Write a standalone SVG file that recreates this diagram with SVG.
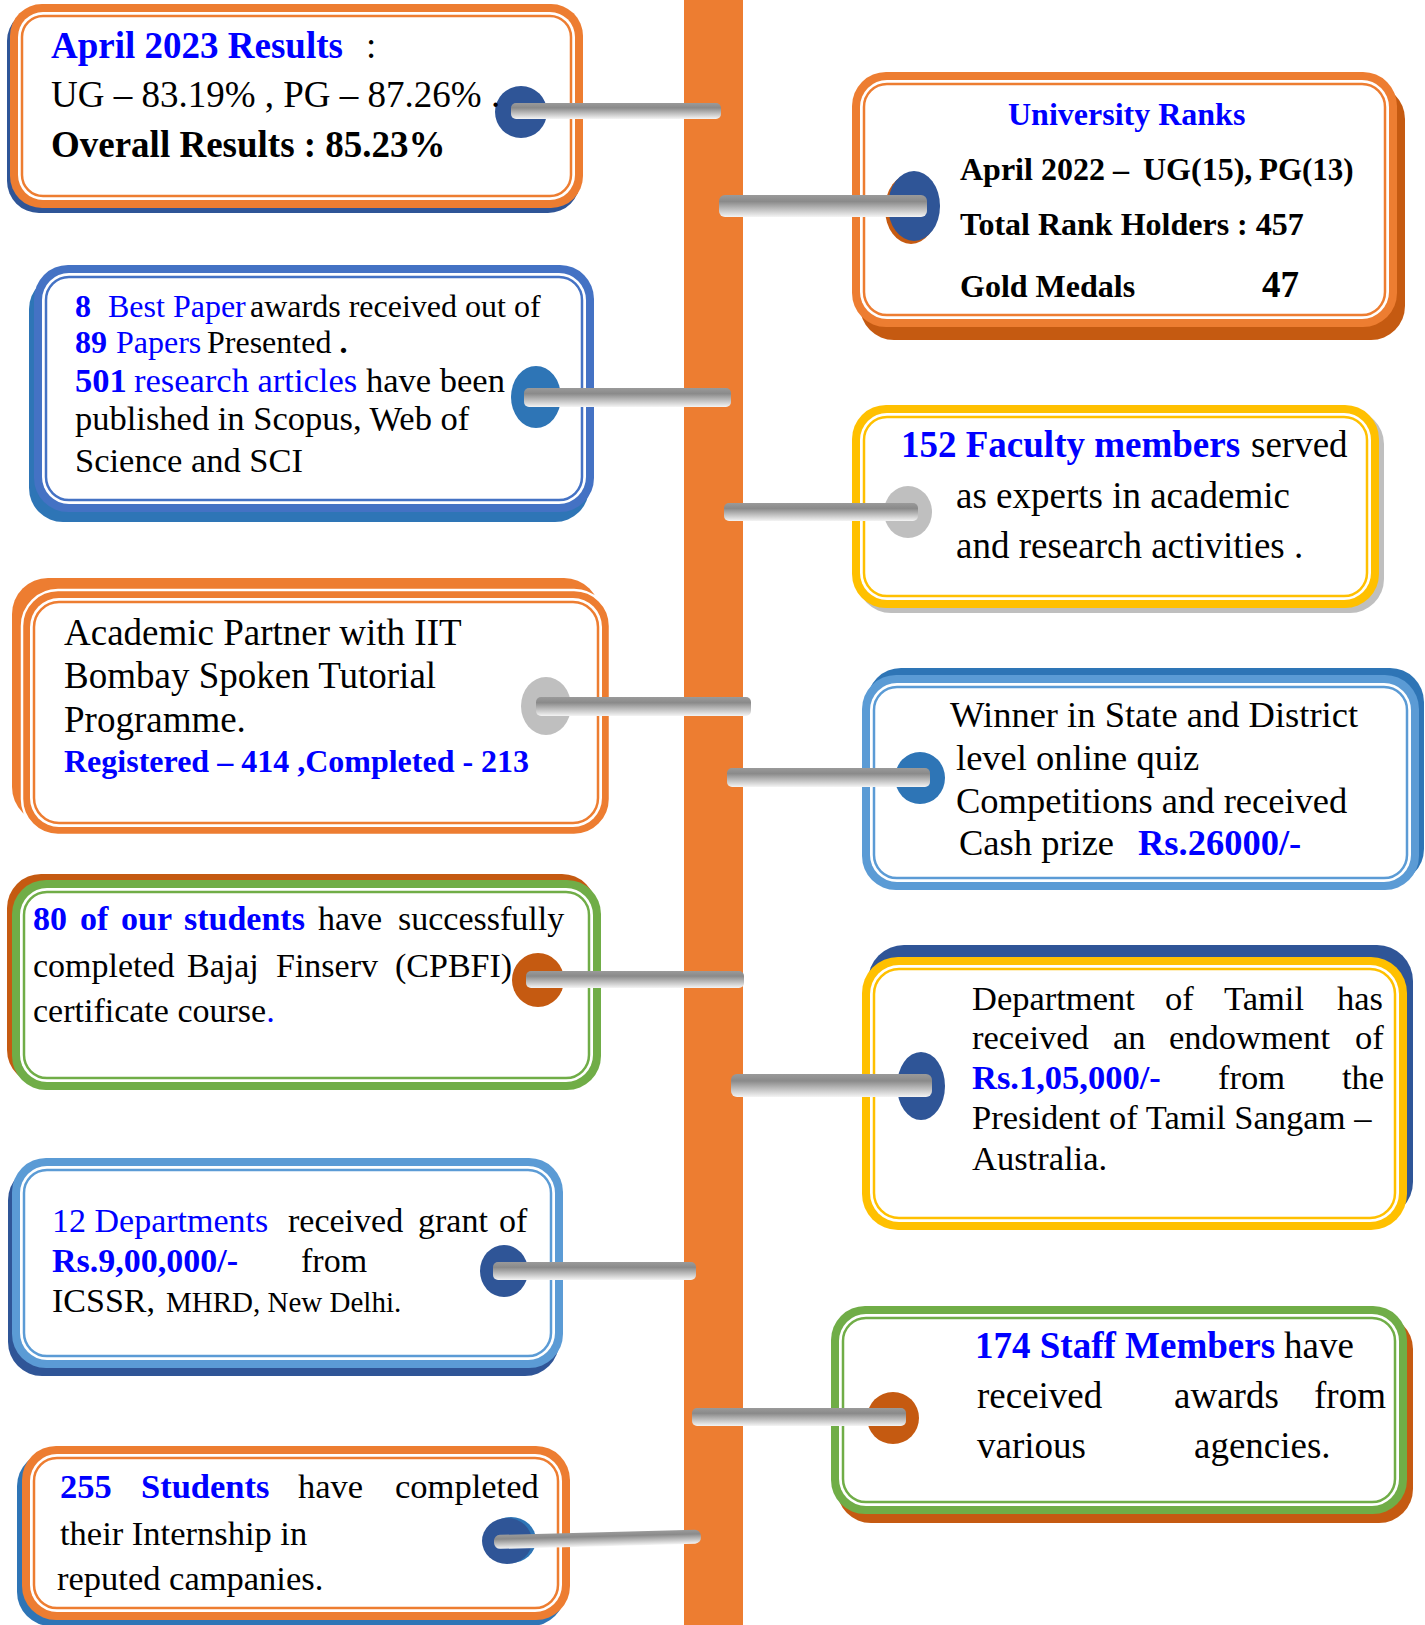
<svg xmlns="http://www.w3.org/2000/svg" width="1425" height="1625" viewBox="0 0 1425 1625">
<defs>
<linearGradient id="gc" x1="0" y1="0" x2="0" y2="1">
<stop offset="0" stop-color="#9a9a9a"/>
<stop offset="0.3" stop-color="#8a8a8a"/>
<stop offset="1" stop-color="#f4f4f4"/>
</linearGradient>
</defs>
<style>
text{font-family:"Liberation Serif","Times New Roman",serif;fill:#000}
.b{font-weight:bold}
.bl{fill:#0000FF}
.wt{fill:#fff}
.con{fill:url(#gc)}
</style>
<rect id="spine" x="684" y="0" width="59" height="1625" fill="#ED7D31"/>

<g id="n1">
<rect x="7" y="9" width="573" height="204" rx="32" fill="#2F5597"/>
<rect x="10" y="4" width="573" height="204" rx="32" fill="#ED7D31"/>
<rect x="18" y="12" width="557" height="188" rx="25" class="wt"/>
<rect x="22" y="16" width="549" height="180" rx="21" fill="none" stroke="#ED7D31" stroke-width="2.5"/>
<ellipse cx="521" cy="112" rx="26" ry="26" fill="#2F5597"/>
<g font-size="37">
<text x="51" y="58" class="b bl">April 2023 Results</text>
<text x="366" y="58">:</text>
<text x="51" y="107">UG – 83.19% , PG – 87.26%</text>
<text x="491" y="107">.</text>
<text x="51" y="157" class="b">Overall Results : 85.23%</text>
</g>
</g>

<g id="n2">
<rect x="860" y="85" width="545" height="255" rx="34" fill="#C55A11"/>
<rect x="852" y="72" width="545" height="255" rx="34" fill="#ED7D31"/>
<rect x="860" y="80" width="529" height="239" rx="27" class="wt"/>
<rect x="864" y="84" width="521" height="231" rx="23" fill="none" stroke="#ED7D31" stroke-width="2.5"/>
<ellipse cx="911" cy="209" rx="26" ry="35" fill="#C55A11"/>
<ellipse cx="914" cy="206" rx="26" ry="35" fill="#2F5597"/>
<g font-size="32" class="b">
<text x="1008" y="125" class="b bl">University Ranks</text>
<text x="960" y="180" class="b">April 2022 –</text>
<text x="1143" y="180" class="b">UG(15),</text>
<text x="1259" y="180" class="b" font-size="31">PG(13)</text>
<text x="960" y="235" class="b">Total Rank Holders : 457</text>
<text x="960" y="297" class="b">Gold Medals</text>
<text x="1262" y="297" class="b" font-size="37">47</text>
</g>
</g>

<g id="n3">
<rect x="29" y="275" width="560" height="247" rx="34" fill="#2E75B6"/>
<rect x="34" y="265" width="560" height="247" rx="34" fill="#4472C4"/>
<rect x="42" y="273" width="544" height="231" rx="27" class="wt"/>
<rect x="46" y="277" width="536" height="223" rx="23" fill="none" stroke="#4472C4" stroke-width="2.5"/>
<ellipse cx="536" cy="397" rx="25" ry="31" fill="#2E75B6"/>
<g font-size="32">
<text x="75" y="317" class="b bl">8</text>
<text x="108" y="317" class="bl">Best Paper</text>
<text x="250" y="317">awards received out of</text>
<text x="75" y="353" class="b bl">89</text>
<text x="116" y="353" class="bl">Papers</text>
<text x="207" y="353">Presented <tspan class="b">.</tspan></text>
</g>
<g font-size="34.5">
<text x="75" y="392" class="b bl">501</text>
<text x="134" y="392" class="bl">research articles</text>
<text x="366" y="392">have been</text>
<text x="75" y="430">published in Scopus, Web of</text>
<text x="75" y="472">Science and SCI</text>
</g>
</g>

<g id="n4">
<rect x="857" y="410" width="527" height="203" rx="34" fill="#BFBFBF"/>
<rect x="852" y="405" width="527" height="203" rx="34" fill="#FFC000"/>
<rect x="860" y="413" width="511" height="187" rx="27" class="wt"/>
<rect x="864" y="417" width="503" height="179" rx="23" fill="none" stroke="#FFC000" stroke-width="2.5"/>
<ellipse cx="908" cy="512" rx="24" ry="26" fill="#BFBFBF"/>
<g font-size="37">
<text x="901" y="457" class="b bl">152 Faculty members</text>
<text x="1251" y="457">served</text>
<text x="956" y="508">as experts in academic</text>
<text x="956" y="558">and research activities .</text>
</g>
</g>

<g id="n5">
<rect x="12" y="578" width="588" height="245" rx="36" fill="#ED7D31"/>
<rect x="22" y="590" width="588" height="245" rx="36" fill="#ED7D31" stroke="#fff" stroke-width="2.5"/>
<rect x="30" y="598" width="572" height="229" rx="29" class="wt"/>
<rect x="34" y="602" width="564" height="221" rx="25" fill="none" stroke="#ED7D31" stroke-width="2.5"/>
<ellipse cx="546" cy="706" rx="25" ry="29" fill="#BFBFBF"/>
<g font-size="37">
<text x="64" y="645">Academic Partner with IIT</text>
<text x="64" y="688">Bombay Spoken Tutorial</text>
<text x="64" y="732">Programme.</text>
<text x="64" y="772" class="b bl" font-size="32">Registered – 414 ,Completed - 213</text>
</g>
</g>

<g id="n6">
<rect x="867" y="668" width="557" height="215" rx="34" fill="#2E75B6"/>
<rect x="862" y="675" width="557" height="215" rx="34" fill="#5B9BD5"/>
<rect x="870" y="683" width="541" height="199" rx="27" class="wt"/>
<rect x="874" y="687" width="533" height="191" rx="23" fill="none" stroke="#5B9BD5" stroke-width="2.5"/>
<ellipse cx="920" cy="778" rx="25" ry="26" fill="#2E75B6"/>
<g font-size="36.5">
<text x="950" y="727">Winner in State and District</text>
<text x="956" y="770">level online quiz</text>
<text x="956" y="813">Competitions and received</text>
<text x="959" y="855">Cash prize</text>
<text x="1138" y="855" class="b bl">Rs.26000/-</text>
</g>
</g>

<g id="n7">
<rect x="7" y="874" width="589" height="210" rx="34" fill="#C55A11"/>
<rect x="12" y="880" width="589" height="210" rx="34" fill="#70AD47"/>
<rect x="20" y="888" width="573" height="194" rx="27" class="wt"/>
<rect x="24" y="892" width="565" height="186" rx="23" fill="none" stroke="#70AD47" stroke-width="2.5"/>
<ellipse cx="538" cy="980" rx="26" ry="27" fill="#C55A11"/>
<g font-size="34">
<text x="33" y="930" class="b bl">80</text>
<text x="80" y="930" class="b bl">of</text>
<text x="121" y="930" class="b bl">our</text>
<text x="184" y="930" class="b bl">students</text>
<text x="318" y="930">have</text>
<text x="398" y="930">successfully</text>
<text x="33" y="977">completed</text>
<text x="187" y="977">Bajaj</text>
<text x="276" y="977">Finserv</text>
<text x="395" y="977">(CPBFI)</text>
<text x="33" y="1022">certificate course<tspan class="bl">.</tspan></text>
</g>
</g>

<g id="n8">
<rect x="868" y="945" width="545" height="273" rx="36" fill="#2F5597"/>
<rect x="862" y="957" width="545" height="273" rx="36" fill="#FFC000"/>
<rect x="870" y="965" width="529" height="257" rx="29" class="wt"/>
<rect x="874" y="969" width="521" height="249" rx="25" fill="none" stroke="#FFC000" stroke-width="2.5"/>
<ellipse cx="921" cy="1086" rx="24" ry="34" fill="#2F5597"/>
<g font-size="34.5">
<text x="972" y="1010">Department</text>
<text x="1165" y="1010">of</text>
<text x="1224" y="1010">Tamil</text>
<text x="1337" y="1010">has</text>
<text x="972" y="1049">received</text>
<text x="1113" y="1049">an</text>
<text x="1169" y="1049">endowment</text>
<text x="1355" y="1049">of</text>
<text x="972" y="1089" class="b bl">Rs.1,05,000/-</text>
<text x="1218" y="1089">from</text>
<text x="1342" y="1089">the</text>
<text x="972" y="1129">President of Tamil Sangam –</text>
<text x="972" y="1170">Australia.</text>
</g>
</g>

<g id="n9">
<rect x="8" y="1166" width="551" height="210" rx="34" fill="#2F5597"/>
<rect x="12" y="1158" width="551" height="210" rx="34" fill="#5B9BD5"/>
<rect x="20" y="1166" width="535" height="194" rx="27" class="wt"/>
<rect x="24" y="1170" width="527" height="186" rx="23" fill="none" stroke="#5B9BD5" stroke-width="2.5"/>
<ellipse cx="504" cy="1271" rx="24" ry="26" fill="#2F5597"/>
<g font-size="34">
<text x="52" y="1232" class="bl">12 Departments</text>
<text x="288" y="1232">received</text>
<text x="418" y="1232">grant</text>
<text x="499" y="1232">of</text>
<text x="52" y="1272" class="b bl">Rs.9,00,000/-</text>
<text x="301" y="1272">from</text>
<text x="52" y="1312">ICSSR,</text>
<text x="166" y="1312" font-size="29">MHRD, New Delhi.</text>
</g>
</g>

<g id="n10">
<rect x="837" y="1315" width="576" height="208" rx="34" fill="#C55A11"/>
<rect x="831" y="1306" width="576" height="208" rx="34" fill="#70AD47"/>
<rect x="839" y="1314" width="560" height="192" rx="27" class="wt"/>
<rect x="843" y="1318" width="552" height="184" rx="23" fill="none" stroke="#70AD47" stroke-width="2.5"/>
<ellipse cx="893" cy="1418" rx="26" ry="26" fill="#C55A11"/>
<g font-size="37">
<text x="975" y="1358" class="b bl">174 Staff Members</text>
<text x="1284" y="1358">have</text>
<text x="977" y="1408">received</text>
<text x="1174" y="1408">awards</text>
<text x="1314" y="1408">from</text>
<text x="977" y="1458">various</text>
<text x="1194" y="1458">agencies.</text>
</g>
</g>

<g id="n11">
<rect x="17" y="1452" width="548" height="174" rx="34" fill="#2E75B6"/>
<rect x="22" y="1446" width="548" height="174" rx="34" fill="#ED7D31"/>
<rect x="30" y="1454" width="532" height="158" rx="27" class="wt"/>
<rect x="34" y="1458" width="524" height="150" rx="23" fill="none" stroke="#ED7D31" stroke-width="2.5"/>
<ellipse cx="511" cy="1540" rx="25" ry="23" fill="#2E75B6"/>
<ellipse cx="507" cy="1541" rx="25" ry="23" fill="#2F5597"/>
<g font-size="34.5">
<text x="60" y="1498" class="b bl">255</text>
<text x="141" y="1498" class="b bl">Students</text>
<text x="298" y="1498">have</text>
<text x="395" y="1498">completed</text>
<text x="60" y="1545">their Internship in</text>
<text x="57" y="1590">reputed campanies.</text>
</g>
</g>

<g id="connectors">
<rect class="con" x="511" y="103" width="210" height="16" rx="5"/>
<rect class="con" x="719" y="195" width="208" height="22" rx="6"/>
<rect class="con" x="524" y="388" width="207" height="19" rx="5"/>
<rect class="con" x="724" y="503" width="194" height="18" rx="5"/>
<rect class="con" x="536" y="697" width="215" height="19" rx="5"/>
<rect class="con" x="727" y="768" width="203" height="19" rx="5"/>
<rect class="con" x="526" y="971" width="218" height="17" rx="5"/>
<rect class="con" x="731" y="1074" width="201" height="23" rx="6"/>
<rect class="con" x="493" y="1262" width="203" height="18" rx="5"/>
<rect class="con" x="692" y="1408" width="214" height="18" rx="5"/>
<rect class="con" x="494" y="1535" width="207" height="14" rx="6" transform="rotate(-1.5 494 1542)"/>
</g>
</svg>
